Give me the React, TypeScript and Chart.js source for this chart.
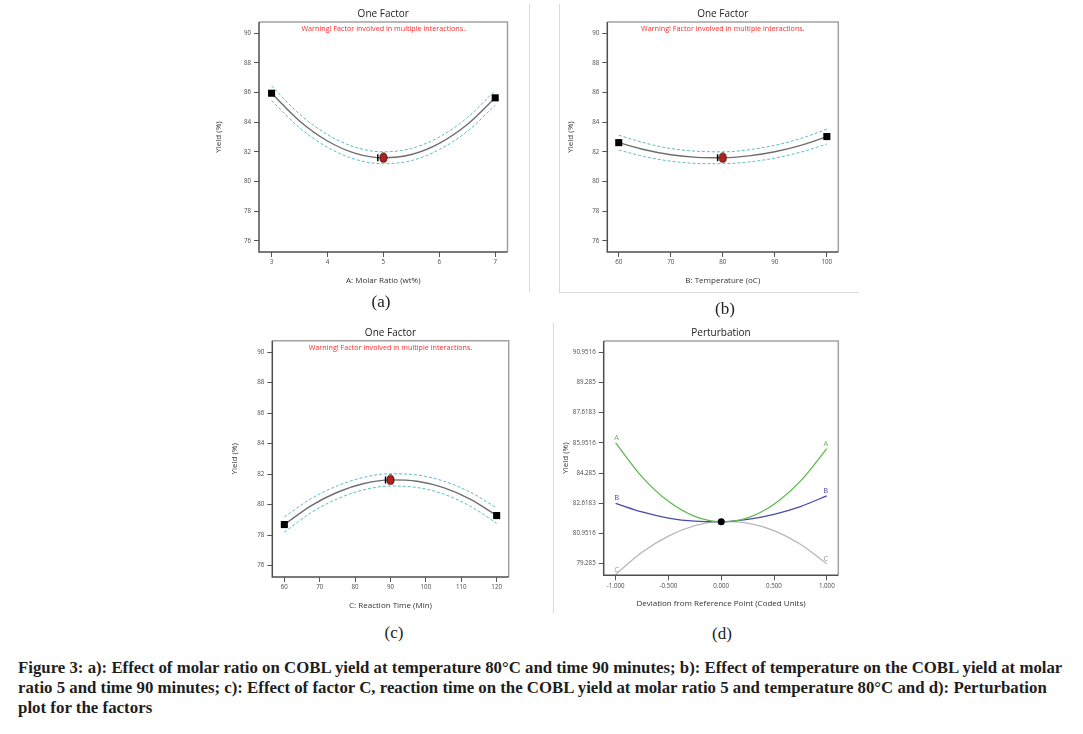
import React, { useEffect, useLayoutEffect, useRef } from 'react';
import { Chart, registerables } from 'chart.js';

Chart.register(...registerables);

// ---------- data ----------
const molarRatio = [3, 3.5, 4, 4.5, 5, 5.5, 6, 6.5, 7];
const yieldA = [85.95, 84.08, 82.73, 81.9, 81.6, 81.82, 82.57, 83.84, 85.64];
const yieldAUpper = [86.45, 84.54, 83.16, 82.31, 82.0, 82.23, 83.0, 84.3, 86.14];
const yieldALower = [85.45, 83.62, 82.31, 81.49, 81.2, 81.41, 82.15, 83.38, 85.14];

const temperature = [60, 65, 70, 75, 80, 85, 90, 95, 100];
const yieldB = [82.62, 82.14, 81.8, 81.63, 81.6, 81.73, 82.01, 82.44, 83.03];
const yieldBUpper = [83.12, 82.6, 82.22, 82.04, 82.0, 82.14, 82.44, 82.9, 83.53];
const yieldBLower = [82.12, 81.68, 81.37, 81.22, 81.2, 81.32, 81.58, 81.98, 82.53];

const reactionTime = [60, 67.5, 75, 82.5, 90, 97.5, 105, 112.5, 120];
const yieldC = [78.69, 79.92, 80.81, 81.38, 81.62, 81.53, 81.11, 80.36, 79.28];
const yieldCUpper = [79.19, 80.38, 81.23, 81.79, 82.02, 81.94, 81.54, 80.82, 79.78];
const yieldCLower = [78.19, 79.46, 80.38, 80.97, 81.22, 81.12, 80.69, 79.9, 78.78];

// coded units for the perturbation plot (same 9 positions for A, B, C)
const codedUnits = [-1, -0.75, -0.5, -0.25, 0, 0.25, 0.5, 0.75, 1];

const centreA = { x: 5, y: 81.6 };
const barA = { x: 4.9, y: 81.6 };
const centreB = { x: 80, y: 81.6 };
const barB = { x: 79, y: 81.6 };
const centreC = { x: 90, y: 81.62 };
const barC = { x: 88.6, y: 81.62 };
const referencePoint = { x: 0, y: 81.6 };

const yTicksOneFactor = [76, 78, 80, 82, 84, 86, 88, 90];
const xTicksA = [3, 4, 5, 6, 7];
const xTicksB = [60, 70, 80, 90, 100];
const xTicksC = [60, 70, 80, 90, 100, 110, 120];
const xTicksD = [-1, -0.5, 0, 0.5, 1];
const xTickLabelsD = ['-1.000', '-0.500', '0.000', '0.500', '1.000'];
const yTicksD = [79.285, 80.9516, 82.6183, 84.285, 85.9516, 87.6183, 89.285, 90.9516];
const yTickLabelsD = ['79.285', '80.9516', '82.6183', '84.285', '85.9516', '87.6183', '89.285', '90.9516'];

const captionLines = [
  'Figure 3: a): Effect of molar ratio on COBL yield at temperature 80°C and time 90 minutes; b): Effect of temperature on the COBL yield at molar',
  'ratio 5 and time 90 minutes; c): Effect of factor C, reaction time on the COBL yield at molar ratio 5 and temperature 80°C and d): Perturbation',
  'plot for the factors',
];

// ---------- styling ----------
const SANS = "'Open Sans', 'Noto Sans', sans-serif";
const TEAL = '#5bbcc4';
const GREEN = '#5fba4f';
const BLUE = '#4a4aa8';
const GREY = '#b8b8b8';

function makeEllipseMarker(): HTMLCanvasElement {
  const c = document.createElement('canvas');
  c.width = 9;
  c.height = 11;
  const g = c.getContext('2d') as CanvasRenderingContext2D;
  g.beginPath();
  g.ellipse(4.5, 5.5, 3.5, 4.6, 0, 0, Math.PI * 2);
  g.fillStyle = '#b3201e';
  g.fill();
  g.lineWidth = 1;
  g.strokeStyle = '#3b0d0c';
  g.stroke();
  return c;
}

const decorPlugin = {
  id: 'decor',
  afterDraw(chart: any, _args: any, opts: any) {
    const { ctx, chartArea: a } = chart;
    ctx.save();
    ctx.lineWidth = 1.5;
    ctx.strokeStyle = '#a2a2a2';
    ctx.beginPath();
    ctx.moveTo(a.left, a.top);
    ctx.lineTo(a.right, a.top);
    ctx.lineTo(a.right, a.bottom);
    ctx.stroke();
    ctx.strokeStyle = '#4e4e4e';
    ctx.beginPath();
    ctx.moveTo(a.left, a.top);
    ctx.lineTo(a.left, a.bottom);
    ctx.lineTo(a.right, a.bottom);
    ctx.stroke();
    const cx = (a.left + a.right) / 2;
    ctx.textAlign = 'center';
    ctx.textBaseline = 'middle';
    ctx.fillStyle = '#222';
    ctx.font = `10px ${SANS}`;
    ctx.fillText(opts.title, cx, a.top - 8);
    if (opts.warning) {
      ctx.fillStyle = '#ff2a2a';
      ctx.font = `7.2px ${SANS}`;
      ctx.fillText(opts.warning, cx, a.top + 7);
    }
    if (opts.endLabels) {
      ctx.font = `7.5px ${SANS}`;
      opts.endLabels.forEach((l: any) => {
        const meta = chart.getDatasetMeta(l.index);
        const first = meta.data[0];
        const last = meta.data[meta.data.length - 1];
        ctx.fillStyle = l.color;
        ctx.fillText(l.text, first.x + 1, first.y - 5);
        ctx.fillText(l.text, last.x - 1, last.y - 5);
      });
    }
    ctx.restore();
  },
};

const pts = (xs: number[], ys: number[]) => xs.map((x, i) => ({ x, y: ys[i] }));

type Layout = {
  left: number; top: number; w: number; h: number;
  yAxisW: number; xAxisH: number; padTop: number; padRight: number;
  xTitlePad: number; yTitlePad: number;
};

function axes(l: Layout, o: any) {
  const tickFont = { family: SANS, size: 6.2 };
  const titleFont = { family: SANS, size: 8 };
  const grid = { display: true, drawOnChartArea: false, drawTicks: true, tickLength: 5, color: '#555', lineWidth: 1 };
  return {
    x: {
      type: 'linear',
      min: o.xMin,
      max: o.xMax,
      afterBuildTicks: (s: any) => { s.ticks = o.xTicks.map((v: number) => ({ value: v })); },
      afterFit: (s: any) => { s.height = l.xAxisH; },
      ticks: {
        font: tickFont, color: '#4a4a4a', padding: 2, autoSkip: false, maxRotation: 0,
        callback: (v: any, i: number) => (o.xLabels ? o.xLabels[i] : String(v)),
      },
      grid,
      border: { display: false },
      title: { display: true, text: o.xTitle, font: titleFont, color: '#333', padding: { top: 0, bottom: l.xTitlePad } },
    },
    y: {
      type: 'linear',
      min: o.yMin,
      max: o.yMax,
      afterBuildTicks: (s: any) => { s.ticks = o.yTicks.map((v: number) => ({ value: v })); },
      afterFit: (s: any) => { s.width = l.yAxisW; },
      ticks: {
        font: tickFont, color: '#4a4a4a', padding: 3, autoSkip: false,
        callback: (v: any, i: number) => (o.yLabels ? o.yLabels[i] : String(v)),
      },
      grid,
      border: { display: false },
      title: { display: true, text: 'Yield (%)', font: titleFont, color: '#333', padding: { top: l.yTitlePad, bottom: 0 } },
    },
  };
}

function baseOptions(l: Layout, o: any, decor: any) {
  return {
    responsive: false,
    maintainAspectRatio: false,
    animation: false,
    events: [],
    layout: { padding: { left: 0, top: l.padTop, right: l.padRight, bottom: 0 } },
    plugins: { legend: { display: false }, tooltip: { enabled: false }, title: { display: false }, decor },
    scales: axes(l, o),
  };
}

function oneFactorConfig(l: Layout, o: any) {
  const n = o.xs.length;
  return {
    type: 'line',
    data: {
      datasets: [
        {
          data: [{ x: o.xs[0], y: o.ys[0] }, { x: o.xs[n - 1], y: o.ys[n - 1] }],
          showLine: false, pointStyle: 'rect', pointRadius: 5, pointBackgroundColor: '#000',
          pointBorderColor: '#000', pointBorderWidth: 0, order: 0, clip: false,
        },
        {
          data: [o.centre], showLine: false, pointStyle: makeEllipseMarker(), pointRadius: 4, order: 0,
        },
        {
          data: [o.bar], showLine: false, pointStyle: 'line', pointRotation: 90, pointRadius: 3.5,
          pointBorderColor: '#000', pointBorderWidth: 1.5, order: 0,
        },
        {
          data: pts(o.xs, o.ys), borderColor: '#6e6e6e', borderWidth: 1.4, pointRadius: 0,
          cubicInterpolationMode: 'monotone', order: 1,
        },
        {
          data: pts(o.xs, o.upper), borderColor: TEAL, borderWidth: 1, borderDash: [3, 2], pointRadius: 0,
          cubicInterpolationMode: 'monotone', order: 2,
        },
        {
          data: pts(o.xs, o.lower), borderColor: TEAL, borderWidth: 1, borderDash: [3, 2], pointRadius: 0,
          cubicInterpolationMode: 'monotone', order: 2,
        },
      ],
    },
    options: baseOptions(
      l,
      { ...o, yMin: 75.25, yMax: 90.75, yTicks: yTicksOneFactor },
      { title: 'One Factor', warning: 'Warning! Factor involved in multiple interactions.' }
    ),
    plugins: [decorPlugin],
  };
}

function perturbationConfig(l: Layout) {
  const line = (ys: number[], color: string) => ({
    data: pts(codedUnits, ys), borderColor: color, borderWidth: 1.3, pointRadius: 0,
    cubicInterpolationMode: 'monotone', order: 1,
  });
  return {
    type: 'line',
    data: {
      datasets: [
        line(yieldA, GREEN),
        line(yieldB, BLUE),
        line(yieldC, GREY),
        {
          data: [referencePoint], showLine: false, pointStyle: 'circle', pointRadius: 3.5,
          pointBackgroundColor: '#000', pointBorderColor: '#000', pointBorderWidth: 0, order: 0,
        },
      ],
    },
    options: baseOptions(
      l,
      {
        xMin: -1.113, xMax: 1.109, xTicks: xTicksD, xLabels: xTickLabelsD,
        yMin: 78.645, yMax: 91.576, yTicks: yTicksD, yLabels: yTickLabelsD,
        xTitle: 'Deviation from Reference Point (Coded Units)',
      },
      {
        title: 'Perturbation',
        endLabels: [
          { index: 0, text: 'A', color: GREEN },
          { index: 1, text: 'B', color: BLUE },
          { index: 2, text: 'C', color: '#9a9a9a' },
        ],
      }
    ),
    plugins: [decorPlugin],
  };
}

const layoutA: Layout = { left: 200, top: 0, w: 320, h: 300, yAxisW: 59, xAxisH: 48, padTop: 22, padRight: 12.5, xTitlePad: 14.5, yTitlePad: 13.5 };
const layoutB: Layout = { left: 560, top: 0, w: 290, h: 300, yAxisW: 47.3, xAxisH: 48, padTop: 22, padRight: 11.7, xTitlePad: 14.5, yTitlePad: 5.5 };
const layoutC: Layout = { left: 215, top: 320, w: 305, h: 300, yAxisW: 57.3, xAxisH: 43, padTop: 20.7, padRight: 11.3, xTitlePad: 9.5, yTitlePad: 14.5 };
const layoutD: Layout = { left: 555, top: 320, w: 295, h: 300, yAxisW: 48.7, xAxisH: 44.7, padTop: 21, padRight: 11.7, xTitlePad: 11.2, yTitlePad: 5.5 };

function ChartCanvas({ layout, make }: { layout: Layout; make: () => any }) {
  const ref = useRef<HTMLCanvasElement | null>(null);
  useEffect(() => {
    const chart = new Chart(ref.current as HTMLCanvasElement, make());
    return () => chart.destroy();
  }, []);
  return (
    <canvas
      ref={ref}
      width={layout.w}
      height={layout.h}
      style={{ position: 'absolute', left: layout.left, top: layout.top, width: layout.w, height: layout.h }}
    />
  );
}

function CaptionLine({ text, target }: { text: string; target: number }) {
  const ref = useRef<HTMLSpanElement | null>(null);
  useLayoutEffect(() => {
    const el = ref.current;
    if (!el) return;
    const w = el.offsetWidth;
    if (w > 0) el.style.transform = `scaleX(${target / w})`;
  }, [text, target]);
  return (
    <div style={{ whiteSpace: 'nowrap', height: 20 }}>
      <span ref={ref} style={{ display: 'inline-block', transformOrigin: 'left center' }}>{text}</span>
    </div>
  );
}

const panelLabelStyle = (x: number, y: number): React.CSSProperties => ({
  position: 'absolute', left: x, top: y, transform: 'translate(-50%, -50%)',
  fontFamily: "'Liberation Serif', serif", fontSize: 17, color: '#222', lineHeight: 1,
});

const rule = (left: number, top: number, width: number, height: number): React.CSSProperties => ({
  position: 'absolute', left, top, width, height, background: '#d9d9d9',
});

export default function App() {
  const captionTargets = [1044, 1029, 134];
  return (
    <div style={{ position: 'absolute', left: 0, top: 0, width: 1083, height: 734, background: '#fff', overflow: 'hidden' }}>
      <div style={rule(529, 4, 1, 288)} />
      <div style={rule(559, 4, 1, 288)} />
      <div style={rule(559, 292, 300, 1)} />
      <div style={rule(553, 323, 1, 290)} />

      <ChartCanvas layout={layoutA} make={() => oneFactorConfig(layoutA, {
        xs: molarRatio, ys: yieldA, upper: yieldAUpper, lower: yieldALower, centre: centreA, bar: barA,
        xMin: 2.775, xMax: 7.22, xTicks: xTicksA, xTitle: 'A: Molar Ratio (wt%)',
      })} />
      <ChartCanvas layout={layoutB} make={() => oneFactorConfig(layoutB, {
        xs: temperature, ys: yieldB, upper: yieldBUpper, lower: yieldBLower, centre: centreB, bar: barB,
        xMin: 57.8, xMax: 102.2, xTicks: xTicksB, xTitle: 'B: Temperature (oC)',
      })} />
      <ChartCanvas layout={layoutC} make={() => oneFactorConfig(layoutC, {
        xs: reactionTime, ys: yieldC, upper: yieldCUpper, lower: yieldCLower, centre: centreC, bar: barC,
        xMin: 56.6, xMax: 123.4, xTicks: xTicksC, xTitle: 'C: Reaction Time (Min)',
      })} />
      <ChartCanvas layout={layoutD} make={() => perturbationConfig(layoutD)} />

      <div style={panelLabelStyle(381, 301)}>(a)</div>
      <div style={panelLabelStyle(725, 308)}>(b)</div>
      <div style={panelLabelStyle(394, 632)}>(c)</div>
      <div style={panelLabelStyle(722, 633)}>(d)</div>

      <div
        style={{
          position: 'absolute', left: 18, top: 658, width: 1060,
          fontFamily: "'Liberation Serif', serif", fontWeight: 'bold', fontSize: 16, lineHeight: '20px', color: '#1e1e1e',
        }}
      >
        {captionLines.map((t, i) => (
          <CaptionLine key={i} text={t} target={captionTargets[i]} />
        ))}
      </div>
    </div>
  );
}
